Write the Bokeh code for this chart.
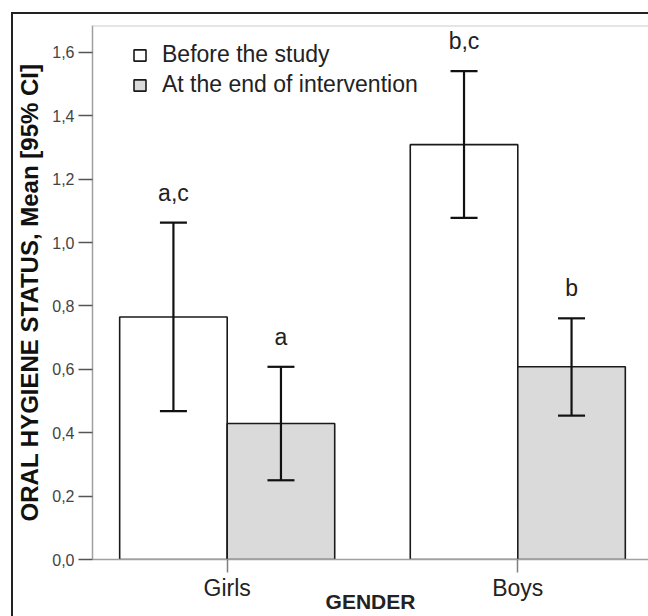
from bokeh.plotting import figure
from bokeh.models import (ColumnDataSource, Whisker, TeeHead, FixedTicker, Range1d,
                          Span, Legend, LegendItem, InlineStyleSheet)
from bokeh.core.properties import value
from bokeh.embed import file_html
from bokeh.resources import INLINE

# ---- data ----
genders = ["Girls", "Boys"]
series = ["Before the study", "At the end of intervention"]
before_mean = [0.765, 1.309]
before_lower = [0.468, 1.078]
before_upper = [1.063, 1.541]
after_mean = [0.429, 0.608]
after_lower = [0.250, 0.454]
after_upper = [0.608, 0.761]
before_letters = ["a,c", "b,c"]
after_letters = ["a", "b"]
y_ticks = [0.0, 0.2, 0.4, 0.6, 0.8, 1.0, 1.2, 1.4, 1.6]
y_tick_labels = ["0,0", "0,2", "0,4", "0,6", "0,8", "1,0", "1,2", "1,4", "1,6"]

FONT = "Liberation Sans"
BAR_W = 0.37
idx = list(range(len(genders)))

src_before = ColumnDataSource(dict(
    x=[i - BAR_W / 2 for i in idx], top=before_mean, lower=before_lower,
    upper=before_upper, lab=before_letters))
src_after = ColumnDataSource(dict(
    x=[i + BAR_W / 2 for i in idx], top=after_mean, lower=after_lower,
    upper=after_upper, lab=after_letters))

p = figure(width=648, height=616, output_backend="svg", toolbar_location=None,
           x_range=Range1d(-0.4635, 1.4498), y_range=Range1d(0, 1.685),
           min_border_left=92, min_border_top=25, min_border_bottom=57,
           min_border_right=0, css_classes=["ohs-frame"])
p.outline_line_color = None
p.xgrid.visible = False
p.ygrid.visible = False
p.background_fill_color = None
p.border_fill_color = "white"

r_before = p.vbar(x="x", top="top", width=BAR_W, bottom=0, source=src_before,
                  fill_color="white", line_color="#1a1a1a", line_width=1.6)
r_after = p.vbar(x="x", top="top", width=BAR_W, bottom=0, source=src_after,
                 fill_color="#dadada", line_color="#1a1a1a", line_width=1.6)

for src in (src_before, src_after):
    w = Whisker(base="x", lower="lower", upper="upper", source=src,
                line_color="#111111", line_width=2.2, level="overlay",
                upper_head=TeeHead(size=27, line_width=2.2, line_color="#111111"),
                lower_head=TeeHead(size=27, line_width=2.2, line_color="#111111"))
    p.add_layout(w)
    p.text(x="x", y="upper", text="lab", source=src, text_align="center",
           text_baseline="alphabetic", y_offset=-30, text_font=value(FONT),
           text_font_size="23px", text_color="#222222")

# top frame line
p.add_layout(Span(location=p.y_range.end, dimension="width",
                  line_color="#cccccc", line_width=2))

# axes
xa = p.xaxis[0]
xa.ticker = FixedTicker(ticks=idx)
xa.major_label_overrides = {i: g for i, g in zip(idx, genders)}
xa.axis_label = "GENDER"
xa.axis_label_text_font = FONT
xa.axis_label_text_font_style = "bold"
xa.axis_label_text_font_size = "21px"
xa.axis_label_text_color = "#222222"
xa.axis_label_standoff = -14
xa.major_label_text_font = FONT
xa.major_label_text_font_size = "23px"
xa.major_label_text_color = "#222222"
xa.major_label_standoff = 2
xa.axis_line_color = "#a0a0a0"
xa.axis_line_width = 1.5
xa.major_tick_line_color = "#808080"
xa.major_tick_line_width = 1.5
xa.major_tick_in = 0
xa.major_tick_out = 13
xa.minor_tick_line_color = None

ya = p.yaxis[0]
ya.ticker = FixedTicker(ticks=y_ticks)
ya.major_label_overrides = {t: l for t, l in zip(y_ticks, y_tick_labels)}
ya.axis_label = "ORAL HYGIENE STATUS, Mean [95% CI]"
ya.axis_label_text_font = FONT
ya.axis_label_text_font_style = "bold"
ya.axis_label_text_font_size = "24px"
ya.axis_label_text_color = "#111111"
ya.axis_label_standoff = 6
ya.major_label_text_font = FONT
ya.major_label_text_font_size = "16px"
ya.major_label_text_color = "#444444"
ya.major_label_standoff = 4
ya.axis_line_color = "#a0a0a0"
ya.axis_line_width = 1.5
ya.major_tick_line_color = "#555555"
ya.major_tick_line_width = 1.5
ya.major_tick_in = 0
ya.major_tick_out = 14
ya.minor_tick_line_color = None

legend = Legend(items=[LegendItem(label=series[0], renderers=[r_before]),
                       LegendItem(label=series[1], renderers=[r_after])],
                location=(40, 461))
legend.border_line_color = None
legend.background_fill_alpha = 0
legend.glyph_width = 15
legend.glyph_height = 14
legend.label_standoff = 15
legend.spacing = 3
legend.padding = 0
legend.margin = 0
legend.label_text_font = FONT
legend.label_text_font_size = "23px"
legend.label_text_color = "#222222"
p.add_layout(legend)

p.stylesheets = [InlineStyleSheet(css="""
:host(.ohs-frame) { position: relative; }
:host(.ohs-frame)::after { content: ""; position: absolute; left: calc(100% - 637px); top: 12px;
  right: 0; bottom: 0; border-left: 2px solid #222; border-top: 2px solid #222;
  pointer-events: none; z-index: 10; }
""")]

open("out.html", "w").write(file_html(p, INLINE))
